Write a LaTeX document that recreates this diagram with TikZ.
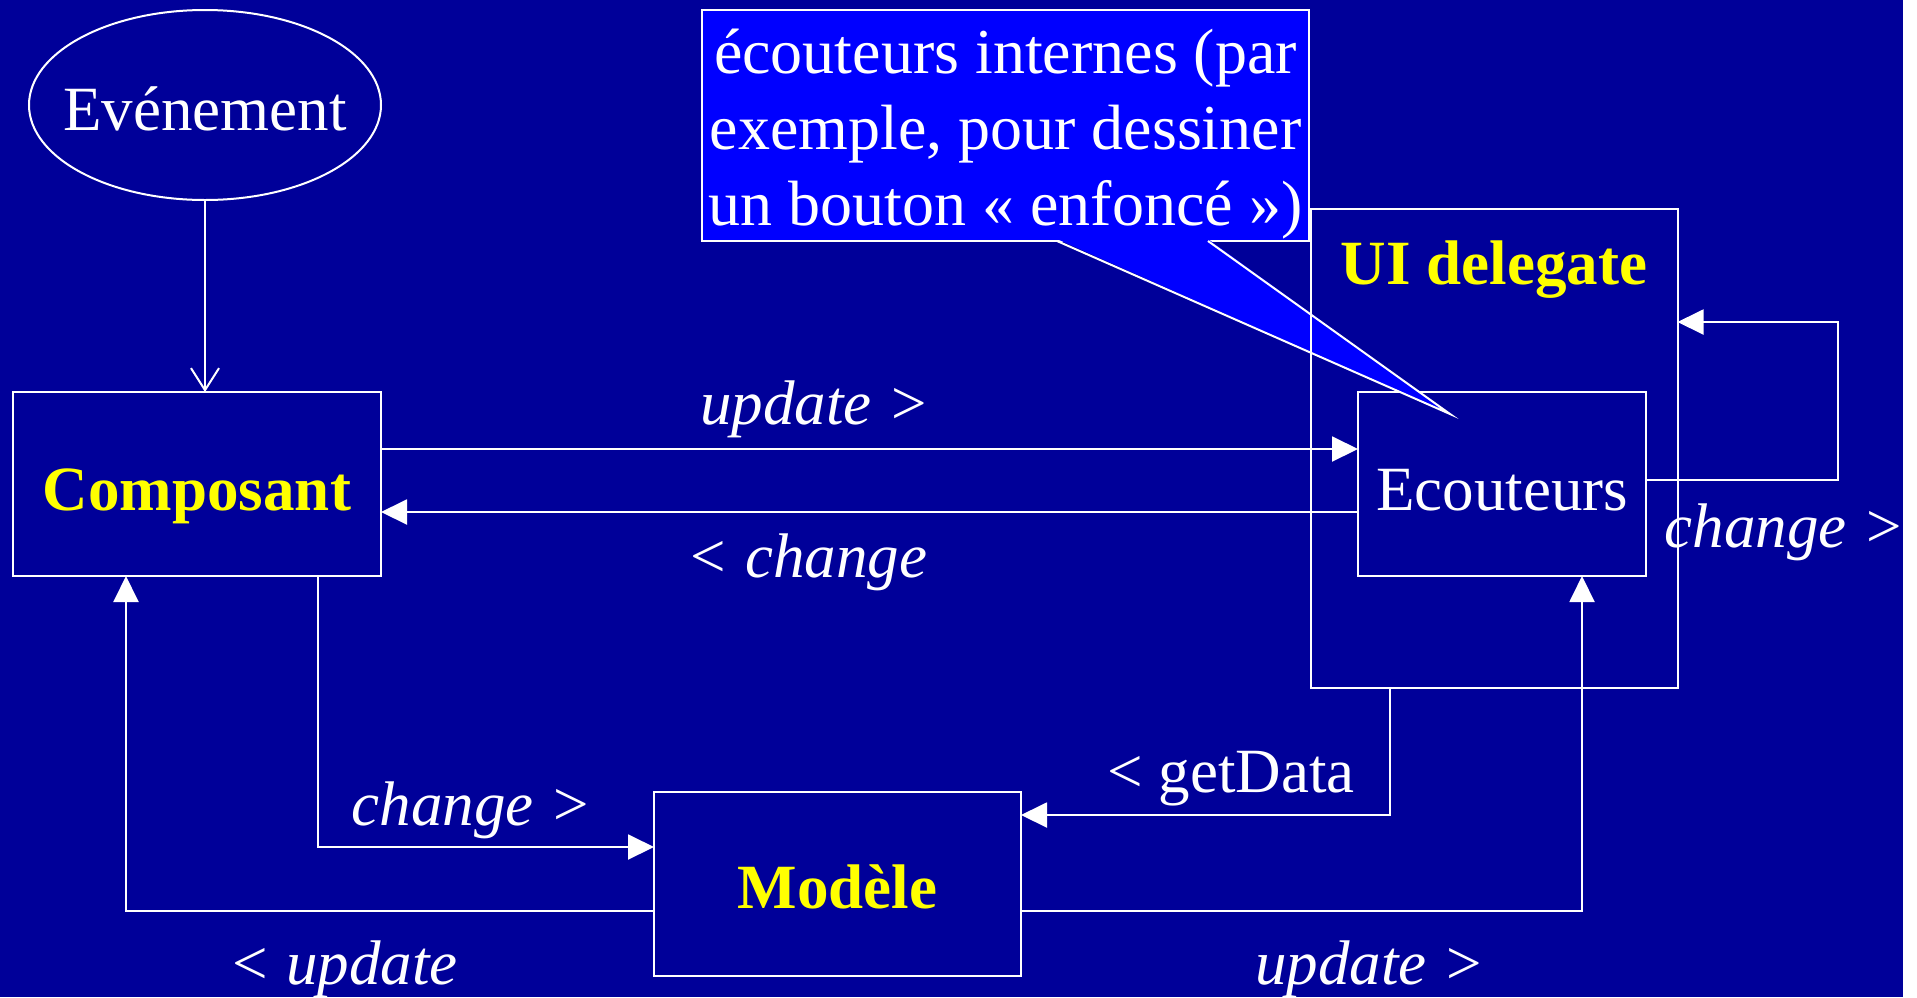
\documentclass[tikz,border=0pt]{standalone}
\usepackage{fontspec}
\setmainfont{Liberation Serif}
\usetikzlibrary{arrows.meta,shapes.geometric}
\definecolor{bgblue}{HTML}{000099}
\definecolor{callblue}{HTML}{0000FF}
\definecolor{ylw}{HTML}{FFFF00}
\newcommand{\bigfont}{\fontsize{63}{76}\selectfont}
\begin{document}
\begin{tikzpicture}[x=1pt,y=-1pt,line width=2pt,
  every node/.style={inner sep=0pt,outer sep=0pt,font=\bigfont},
  boxnode/.style={draw=white,rectangle,text=white},
  title/.style={text=ylw,font=\bigfont\bfseries},
  lbl/.style={text=white,anchor=base},
  ital/.style={lbl,font=\bigfont\itshape},
  arr/.style={draw=white,-{Triangle[length=26pt,width=25pt]}},
  openarr/.style={draw=white,-{Straight Barb[length=22pt,width=28pt]}}]
\fill[white] (0,0) rectangle (1917,997);
\fill[bgblue] (0,0) rectangle (1903,997);
\useasboundingbox (0,0) rectangle (1917,997);

% main nodes
\node[ellipse,draw=white,text=white,minimum width=352pt,minimum height=190pt,
      text height=50pt,text depth=0pt] (ev) at (205,105) {\makebox[0pt]{Evénement}};
\node[boxnode,title,minimum width=368pt,minimum height=184pt,
      text height=52pt,text depth=0pt] (comp) at (197,484) {\makebox[0pt]{Composant}};
\node[boxnode,minimum width=288pt,minimum height=184pt,
      text height=52pt,text depth=0pt] (ecou) at (1502,484) {\makebox[0pt]{Ecouteurs}};
\node[boxnode,title,minimum width=367pt,minimum height=184pt,
      text height=48pt,text depth=0pt] (mod) at (837.5,884) {\makebox[0pt]{Modèle}};
\node[boxnode,minimum width=367pt,minimum height=479pt] (ui) at (1494,448.5) {};
\node[title,anchor=base] (uil) at (1494,284) {UI delegate};

% connectors
\draw[openarr] (ev.south) -- (ev.south |- comp.north);
\draw[arr] ([yshift=35pt]comp.east) -- ([yshift=35pt]comp.east -| ecou.west);
\draw[arr] ([yshift=-28pt]ecou.west) -- ([yshift=-28pt]ecou.west -| comp.east);
\coordinate (loopc) at (1838,322);
\draw[arr] ([yshift=4pt]ecou.east) -| (loopc) -- (loopc -| ui.east);
\draw[arr] ([xshift=121pt]comp.south) |- ([yshift=37pt]mod.west);
\draw[arr] ([yshift=-27pt]mod.west) -| ([xshift=-71pt]comp.south);
\draw[arr] ([xshift=-104pt]ui.south) |- ([yshift=69pt]mod.east);
\draw[arr] ([yshift=-27pt]mod.east) -| ([xshift=80pt]ecou.south);

% labels
\node[ital] (l1) at (815,424) {update >};
\node[ital] (l2) at (807,577) {< change};
\node[ital] (l3) at (1785,547) {change >};
\node[ital] (l4) at (472,825) {change >};
\node[ital] (l5) at (343,984) {< update};
\node[lbl] (l6) at (1231,792) {< getData};
\node[ital] (l7) at (1370,984) {update >};

% callout
\node[draw=white,fill=callblue,text=white,
      font=\fontsize{64}{76}\selectfont,text height=31pt,text depth=0pt,
      minimum width=607pt,minimum height=231pt] (call) at (1005.5,125.5)
  {\makebox[0pt]{\begin{tabular}{@{}c@{}}écouteurs internes (par\\exemple, pour dessiner\\un bouton « enfoncé »)\end{tabular}}};
\coordinate (tailtip) at (1450,414);
\fill[callblue] ([xshift=51.5pt,yshift=2pt]call.south) -- (tailtip) -- ([xshift=202.5pt,yshift=2pt]call.south) -- cycle;
\draw[white] ([xshift=51.5pt]call.south) -- (tailtip) -- ([xshift=202.5pt]call.south);
% UI delegate border on top of the tail
\draw[white] (ui.north west) rectangle (ui.south east);
\end{tikzpicture}
\end{document}
